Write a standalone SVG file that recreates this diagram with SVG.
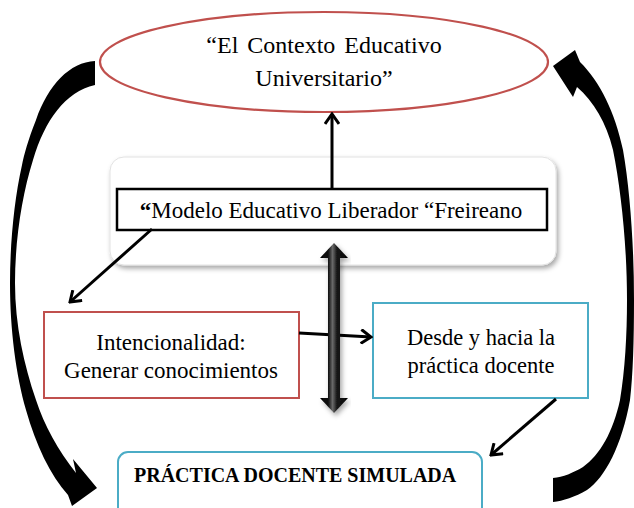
<svg xmlns="http://www.w3.org/2000/svg" width="634" height="508" viewBox="0 0 634 508">
<style>
  .t { font-family: "Liberation Serif", "Times New Roman", serif; fill: #000; }
  .line { stroke: #000; stroke-width: 3; fill: none; }
  .curve { fill: #000; }
</style>
<defs>
  <marker id="chev" viewBox="0 0 14 16" refX="12" refY="8" markerWidth="14" markerHeight="16" orient="auto" markerUnits="userSpaceOnUse">
    <path d="M2,1 L12,8 L2,15" fill="none" stroke="#000" stroke-width="3" stroke-linejoin="miter"/>
  </marker>
  <linearGradient id="shaft" x1="0" y1="0" x2="1" y2="0">
    <stop offset="0" stop-color="#000"/>
    <stop offset="0.3" stop-color="#111"/>
    <stop offset="0.45" stop-color="#6a6a6a"/>
    <stop offset="0.6" stop-color="#1a1a1a"/>
    <stop offset="1" stop-color="#000"/>
  </linearGradient>
  <filter id="shadow" x="-10%" y="-10%" width="120%" height="130%">
    <feDropShadow dx="2" dy="3" stdDeviation="2.5" flood-color="#000" flood-opacity="0.35"/>
  </filter>
</defs>

<g id="contexto">
  <ellipse cx="324" cy="62" rx="224" ry="50" fill="#fff" stroke="#C0504D" stroke-width="2.2"/>
  <text class="t" x="324" y="53" font-size="24" text-anchor="middle" word-spacing="3">“El Contexto Educativo</text>
  <text class="t" x="324" y="86" font-size="24" text-anchor="middle">Universitario”</text>
</g>

<g id="modelo">
  <rect x="110" y="157" width="446" height="108" rx="14" fill="#fff" stroke="#e2e2e2" stroke-width="1" filter="url(#shadow)"/>
  <rect x="117" y="189" width="430" height="41" fill="#fff" stroke="#000" stroke-width="2.5"/>
  <text class="t" x="331" y="218" font-size="23" text-anchor="middle"><tspan font-weight="bold">“</tspan>Modelo Educativo Liberador “Freireano</text>
</g>

<g id="intencionalidad">
  <rect x="44" y="312" width="255" height="86" fill="#fff" stroke="#C0504D" stroke-width="2"/>
  <text class="t" x="171" y="350" font-size="23" text-anchor="middle">Intencionalidad:</text>
  <text class="t" x="171" y="378" font-size="23" text-anchor="middle">Generar conocimientos</text>
</g>

<g id="desde">
  <rect x="373" y="303" width="215" height="95" fill="#fff" stroke="#4BACC6" stroke-width="2"/>
  <text class="t" x="481" y="345" font-size="22.5" text-anchor="middle">Desde y hacia la</text>
  <text class="t" x="481" y="373" font-size="22.5" text-anchor="middle">práctica docente</text>
</g>

<g id="practica">
  <rect x="118" y="452" width="364" height="70" rx="10" fill="#fff" stroke="#4BACC6" stroke-width="2"/>
  <text class="t" x="134" y="482" font-size="20" font-weight="bold">PRÁCTICA DOCENTE SIMULADA</text>
</g>

<g id="connectors">
  <line class="line" x1="332" y1="189" x2="332" y2="114" marker-end="url(#chev)"/>
  <line class="line" x1="152" y1="229" x2="70" y2="302" marker-end="url(#chev)"/>
  <line class="line" x1="299" y1="333" x2="371" y2="337" marker-end="url(#chev)"/>
  <line class="line" x1="556" y1="399" x2="491" y2="455" marker-end="url(#chev)"/>
  <path d="M334,243 L348,258 L340,258 L340,398 L348,398 L334,413 L320,398 L328,398 L328,258 L320,258 Z" fill="url(#shaft)" filter="url(#shadow)"/>
  <path class="curve" d="M95,61 C70,62 48,85 36,120 C28,140 24,155 22,165 C14,200 10,245 10,283 C10,330 16,375 26,410 C36,445 50,475 68,495 L72,506 L97,488 L73,459 L76,473 C58,450 44,425 36,400 C24,365 15,325 15,283 C15,240 22,195 33,160 C45,120 65,92 95,85 Z"/>
  <path class="curve" d="M553,66 L575,50 L580,62 C600,82 615,112 623,150 C630,190 634,245 634,300 C634,340 633,375 630,400 C622,445 605,478 587,490 C575,497 563,501 553,502 L553,478 C563,477 573,473 583,467 C600,455 613,432 620,400 C625,370 627,335 627,300 C627,245 621,190 613,150 C606,122 594,102 577,87 L573,97 Z"/>
</g>
</svg>
